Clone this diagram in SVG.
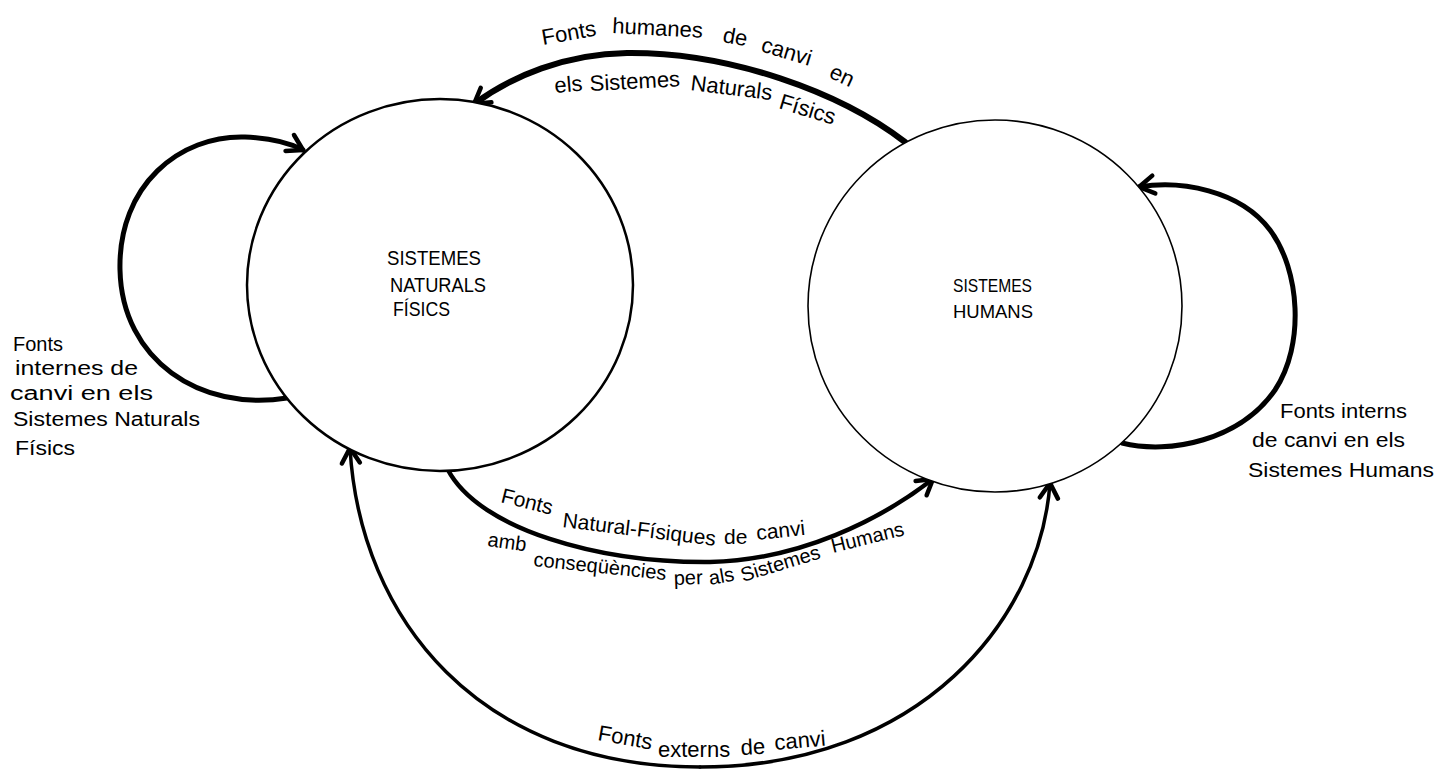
<svg xmlns="http://www.w3.org/2000/svg" width="1441" height="770" viewBox="0 0 1441 770">
<style>
.node{fill:#fff;stroke:#000}
.conn{fill:none;stroke:#000;stroke-linecap:round;stroke-linejoin:round}
.lbl{font-family:"Liberation Sans","DejaVu Sans",sans-serif;font-size:22px;fill:#000}
.mid{font-family:"Liberation Sans","DejaVu Sans",sans-serif;font-size:20px;fill:#000}
.side{font-family:"Liberation Sans","DejaVu Sans",sans-serif;font-size:20px;fill:#000}
.cap{font-family:"Liberation Sans","DejaVu Sans",sans-serif;fill:#000}
</style>
<defs>
<marker id="ah" viewBox="-20 -12 24 24" markerWidth="24" markerHeight="24" refX="0" refY="0" orient="auto" markerUnits="userSpaceOnUse">
<path d="M -15,-9 L 0,0 L -15,9" fill="none" stroke="#000" stroke-width="4.5" stroke-linecap="round" stroke-linejoin="round"/>
</marker>
</defs>

<g id="connectors">
<path id="c-top" class="conn" stroke-width="6" d="M 905,142 C 840,92 730,52 627,53 C 565,54 512,76 474,104" marker-end="url(#ah)"/>
<path id="c-loop-left" class="conn" stroke-width="5" d="M 287,398 C 200,412 122,360 120,270 C 118,185 180,135 245,137 C 268,138 288,142 303,150" marker-end="url(#ah)"/>
<path id="c-loop-right" class="conn" stroke-width="5" d="M 1122,443 C 1170,455 1240,440 1275,390 C 1305,345 1300,270 1270,230 C 1240,190 1180,180 1139,187" marker-end="url(#ah)"/>
<path id="c-mid" class="conn" stroke-width="4.5" d="M 448,470 C 480,530 600,563 710,562 C 800,560 880,520 933,479" marker-end="url(#ah)"/>
<path id="c-ext-left" class="conn" stroke-width="3.5" d="M 700,767 C 480,767 360,620 350,448" marker-end="url(#ah)"/>
<path id="c-ext-right" class="conn" stroke-width="3.5" d="M 700,767 C 920,767 1040,620 1050,483" marker-end="url(#ah)"/>
</g>

<g id="node-natural">
<ellipse class="node" cx="440" cy="285" rx="193" ry="186" stroke-width="2.5"/>
<text class="cap" font-size="21"><tspan x="387" y="265" textLength="94" lengthAdjust="spacingAndGlyphs">SISTEMES</tspan><tspan x="390" y="292" textLength="96" lengthAdjust="spacingAndGlyphs">NATURALS</tspan><tspan x="393" y="316" textLength="57" lengthAdjust="spacingAndGlyphs">FÍSICS</tspan></text>
</g>

<g id="node-human">
<ellipse class="node" cx="995" cy="306" rx="187" ry="186" stroke-width="1.6"/>
<text class="cap" font-size="19"><tspan x="953" y="292" textLength="79" lengthAdjust="spacingAndGlyphs">SISTEMES</tspan><tspan x="953" y="318" textLength="80" lengthAdjust="spacingAndGlyphs">HUMANS</tspan></text>
</g>

<g id="label-top" class="lbl">
<text x="543" y="45" transform="rotate(-10 543 45)">Fonts</text>
<text x="612" y="33" transform="rotate(3 612 33)">humanes</text>
<text x="722" y="42" transform="rotate(10 722 42)">de</text>
<text x="760" y="51" transform="rotate(17 760 51)">canvi</text>
<text x="828" y="77" transform="rotate(25 828 77)">en</text>
<text x="555" y="93" transform="rotate(-5 555 93)">els</text>
<text x="590" y="91" transform="rotate(-3 590 91)">Sistemes</text>
<text x="690" y="90" transform="rotate(7 690 90)">Naturals</text>
<text x="778" y="108" transform="rotate(17 778 108)">Físics</text>
</g>

<g id="label-left" class="side">
<text><tspan x="13" y="351" textLength="50" lengthAdjust="spacingAndGlyphs">Fonts</tspan><tspan x="15" y="375" textLength="123" lengthAdjust="spacingAndGlyphs">internes de</tspan><tspan x="10" y="400" textLength="143" lengthAdjust="spacingAndGlyphs">canvi en els</tspan><tspan x="13" y="426" textLength="187" lengthAdjust="spacingAndGlyphs">Sistemes Naturals</tspan><tspan x="15" y="455" textLength="60" lengthAdjust="spacingAndGlyphs">Físics</tspan></text>
</g>

<g id="label-right" class="side">
<text><tspan x="1280" y="418" textLength="127" lengthAdjust="spacingAndGlyphs">Fonts interns</tspan><tspan x="1252" y="447" textLength="153" lengthAdjust="spacingAndGlyphs">de canvi en els</tspan><tspan x="1248" y="477" textLength="186" lengthAdjust="spacingAndGlyphs">Sistemes Humans</tspan></text>
</g>

<g id="label-mid" class="mid">
<text x="500" y="502" font-size="21" transform="rotate(14 500 502)">Fonts</text>
<text x="562" y="527" font-size="21" transform="rotate(7 562 527)">Natural-Físiques</text>
<text x="724" y="544" font-size="21">de</text>
<text x="757" y="540" font-size="21" transform="rotate(-6 757 540)">canvi</text>
<text x="487" y="546" transform="rotate(8 487 546)">amb</text>
<text x="533" y="566" transform="rotate(6 533 566)">conseqüències</text>
<text x="674" y="585" transform="rotate(-2 674 585)">per</text>
<text x="710" y="585" transform="rotate(-10 710 585)">als</text>
<text x="743" y="582" transform="rotate(-17 743 582)">Sistemes</text>
<text x="833" y="553" transform="rotate(-14 833 553)">Humans</text>
</g>

<g id="label-bottom" class="lbl">
<text x="597" y="740" transform="rotate(10 597 740)">Fonts</text>
<text x="658" y="757">externs</text>
<text x="741" y="755" transform="rotate(-3 741 755)">de</text>
<text x="775" y="750" transform="rotate(-5 775 750)">canvi</text>
</g>
</svg>
